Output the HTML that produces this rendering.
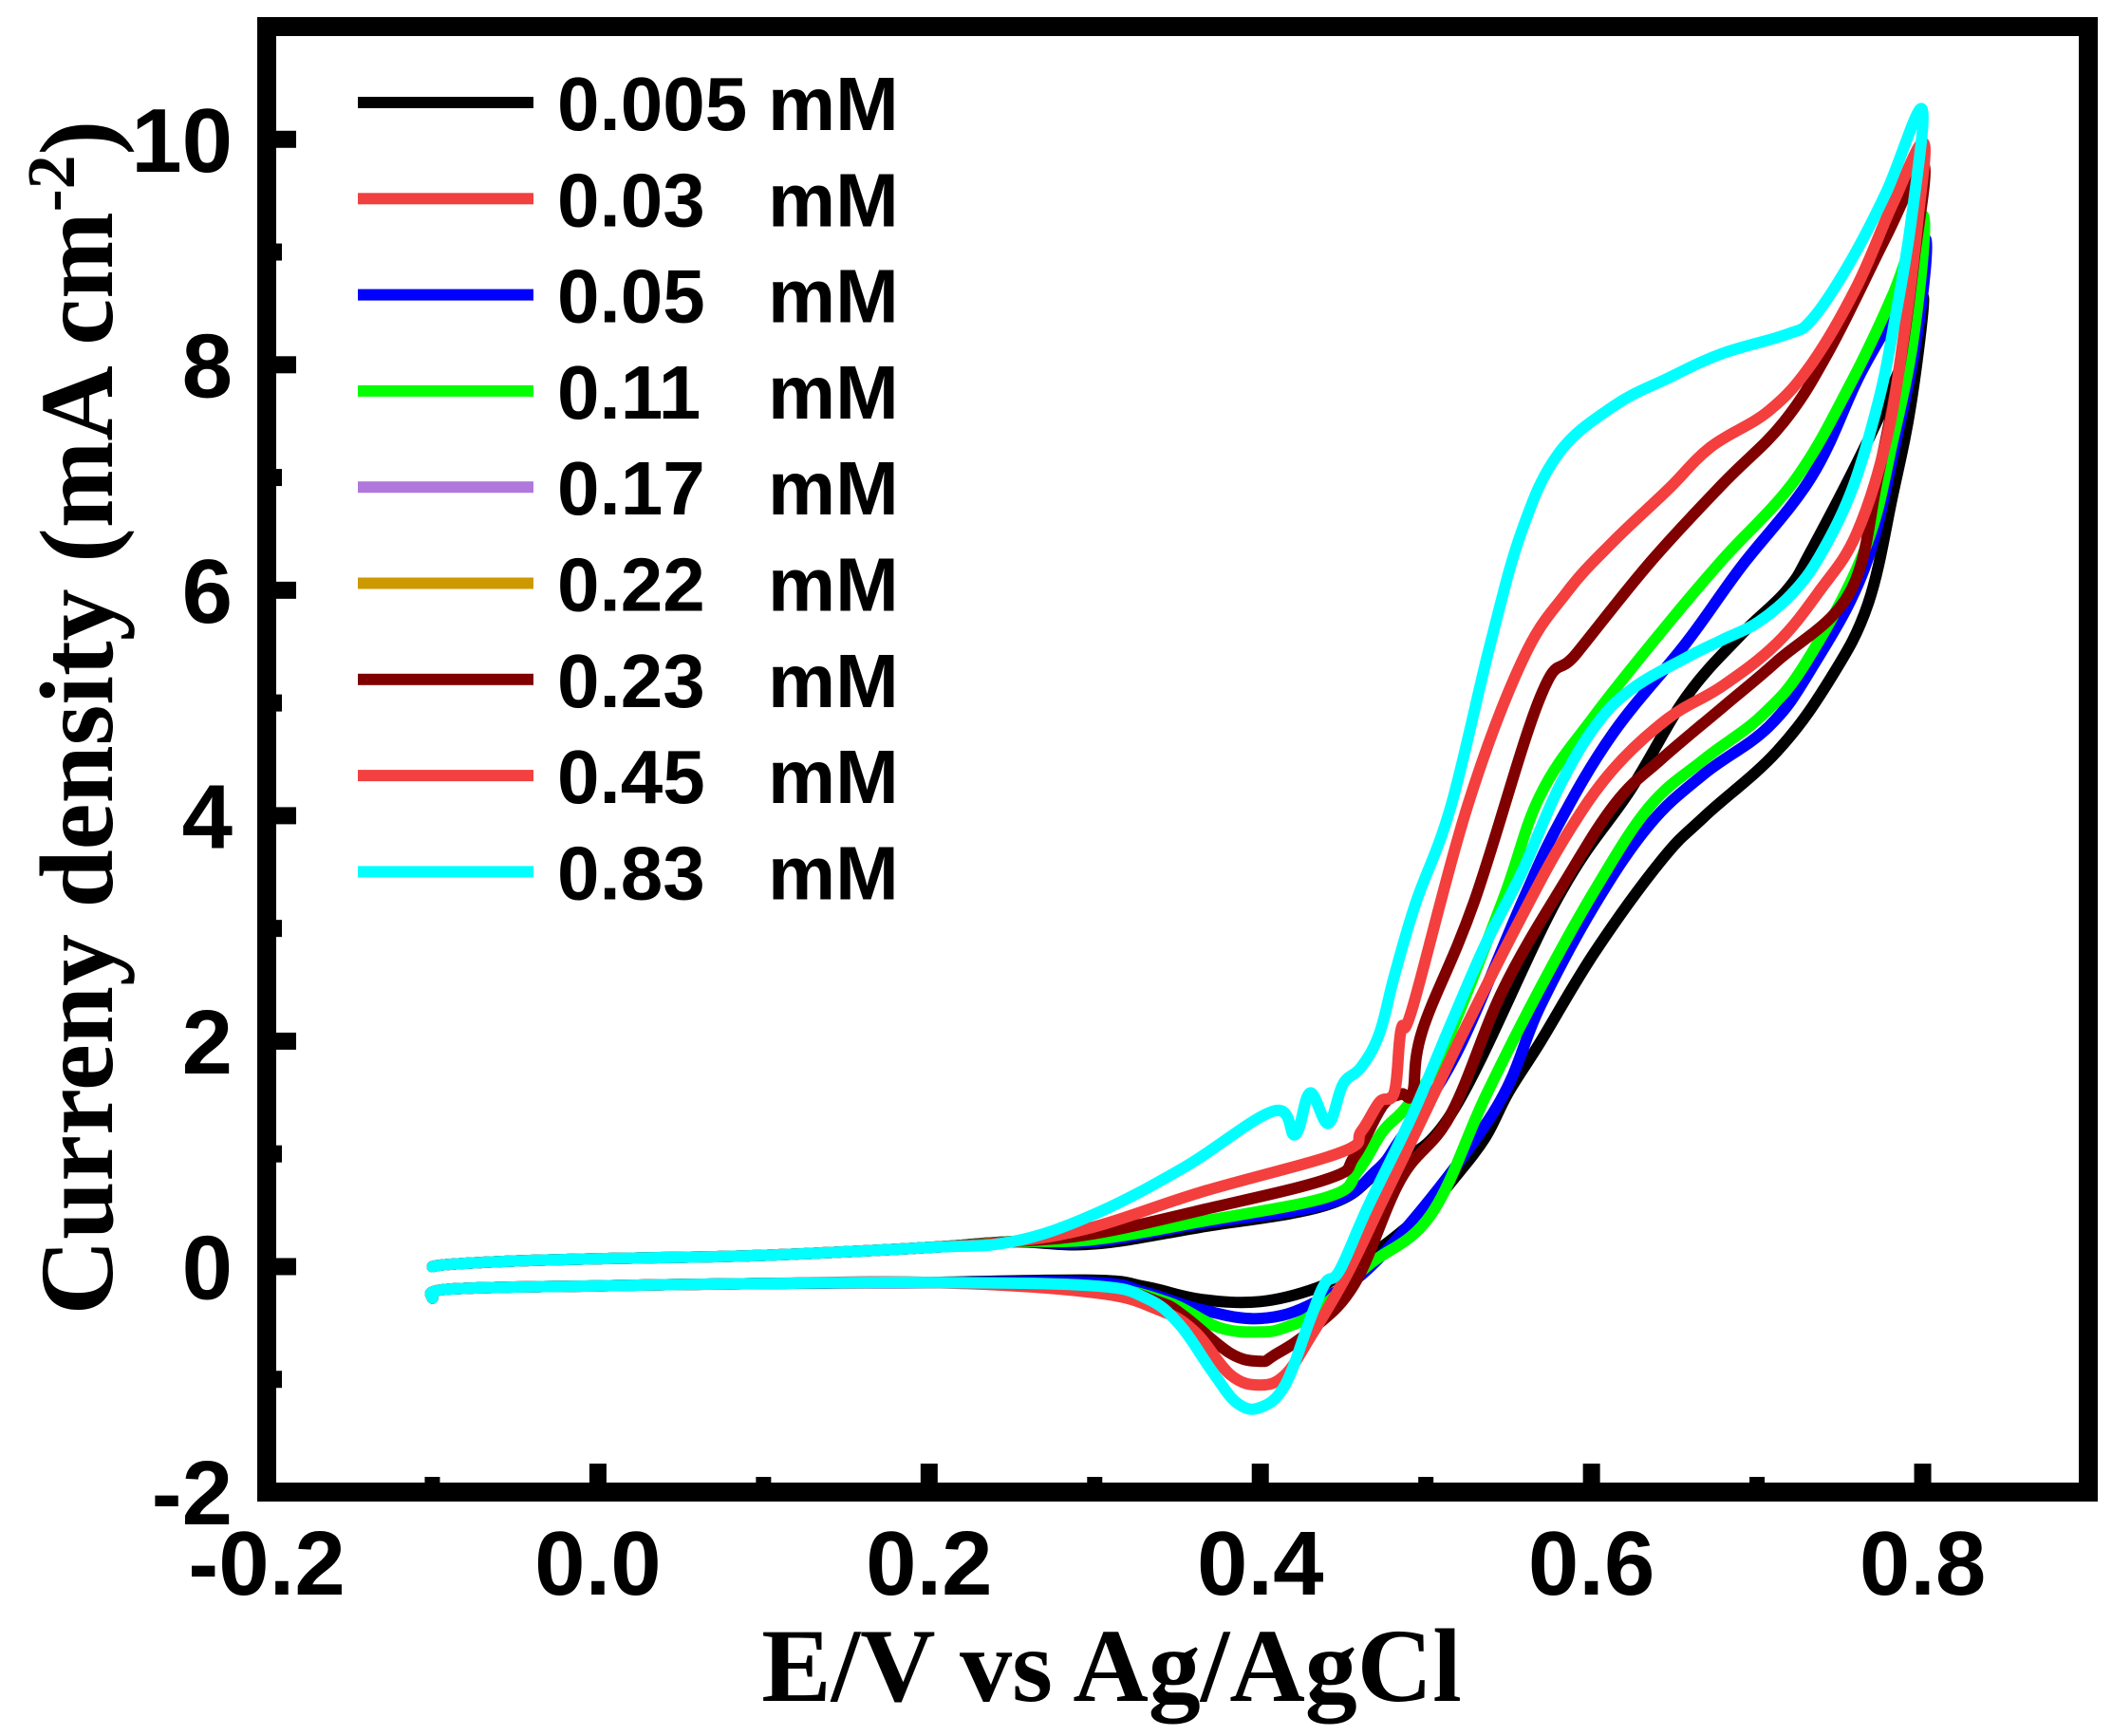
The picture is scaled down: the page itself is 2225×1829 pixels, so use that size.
<!DOCTYPE html>
<html><head><meta charset="utf-8"><style>
html,body{margin:0;padding:0;background:#fff;}
svg{display:block;}
</style></head><body>
<svg id="chart" width="2225" height="1829" viewBox="0 0 2225 1829" xmlns="http://www.w3.org/2000/svg">
<g id="plot"></g>
<g id="axes"></g>
<g id="legend"></g>
<text x="1171" y="1792" text-anchor="middle" font-family="Liberation Serif, serif" font-weight="bold" font-size="110">E/V vs Ag/AgCl</text>
<text transform="translate(118,756) rotate(-90)" text-anchor="middle" font-family="Liberation Serif, serif" font-weight="bold" font-size="110">Curreny density (mA cm<tspan font-size="72" dy="-40">-2</tspan><tspan dy="40">)</tspan></text>
</svg>
<script>
const xTicks = [0.0, 0.2, 0.4, 0.6, 0.8];
const xTickLabels = ["-0.2", "0.0", "0.2", "0.4", "0.6", "0.8"];
const xLabelValues = [-0.2, 0.0, 0.2, 0.4, 0.6, 0.8];
const xMinor = [-0.1, 0.1, 0.3, 0.5, 0.7];
const yTicks = [0, 2, 4, 6, 8, 10];
const yTickLabels = ["-2", "0", "2", "4", "6", "8", "10"];
const yLabelValues = [-2, 0, 2, 4, 6, 8, 10];
const yMinor = [-1, 1, 3, 5, 7, 9];
const legendLabels = ["0.005", "0.03", "0.05", "0.11", "0.17", "0.22", "0.23", "0.45", "0.83"];
const legendColors = ["#000000", "#f04040", "#0000ff", "#00ff00", "#b077dd", "#cc9900", "#800000", "#f44040", "#00ffff"];

const startE = [-0.1, -0.09, -0.05, 0.0, 0.1, 0.2, 0.25];
const startJ = [0.0, 0.02, 0.05, 0.07, 0.1, 0.17, 0.22];
const endE = [0.2, 0.1, 0.0, -0.09, -0.1];
const endJ = [-0.14, -0.15, -0.17, -0.2, -0.28];

const blackE = [0.299, 0.364, 0.441, 0.474, 0.515, 0.58, 0.624, 0.657, 0.69, 0.718, 0.733, 0.767, 0.791, 0.8005, 0.793, 0.782, 0.767, 0.744, 0.712, 0.668, 0.642, 0.602, 0.569, 0.55, 0.536, 0.518, 0.5, 0.474, 0.45, 0.434, 0.4, 0.364, 0.331, 0.299];
const blackJ = [0.2, 0.35, 0.55, 0.88, 1.35, 3.28, 4.24, 5.05, 5.6, 6.0, 6.36, 7.33, 8.14, 8.59, 7.66, 6.85, 5.88, 5.21, 4.57, 3.99, 3.6, 2.79, 1.99, 1.55, 1.15, 0.8, 0.5, 0.18, -0.05, -0.19, -0.31, -0.29, -0.18, -0.12];
const blueE = [0.299, 0.364, 0.441, 0.47, 0.485, 0.518, 0.558, 0.58, 0.613, 0.657, 0.69, 0.733, 0.762, 0.789, 0.802, 0.797, 0.784, 0.765, 0.733, 0.707, 0.668, 0.635, 0.602, 0.569, 0.54, 0.474, 0.434, 0.4, 0.364, 0.331, 0.299];
const blueJ = [0.22, 0.38, 0.56, 0.85, 1.14, 1.88, 3.23, 3.92, 4.73, 5.53, 6.2, 7.01, 7.91, 8.62, 9.11, 8.3, 7.33, 6.2, 5.31, 4.79, 4.37, 3.92, 3.21, 2.31, 1.35, 0.11, -0.31, -0.46, -0.38, -0.23, -0.14];
const greenE = [0.299, 0.364, 0.441, 0.459, 0.474, 0.489, 0.509, 0.546, 0.569, 0.602, 0.646, 0.679, 0.723, 0.756, 0.782, 0.8005, 0.795, 0.782, 0.765, 0.73, 0.703, 0.668, 0.635, 0.602, 0.569, 0.536, 0.503, 0.465, 0.434, 0.415, 0.4, 0.375, 0.343, 0.299];
const greenJ = [0.24, 0.4, 0.62, 0.85, 1.2, 1.43, 1.88, 3.23, 4.18, 4.89, 5.7, 6.27, 6.98, 7.82, 8.62, 9.32, 8.3, 7.33, 6.36, 5.37, 4.89, 4.5, 4.08, 3.34, 2.47, 1.51, 0.46, 0.01, -0.4, -0.54, -0.58, -0.54, -0.31, -0.18];
const darkRedE = [0.299, 0.364, 0.441, 0.457, 0.474, 0.485, 0.492, 0.498, 0.529, 0.569, 0.591, 0.635, 0.679, 0.716, 0.744, 0.778, 0.8005, 0.795, 0.786, 0.773, 0.756, 0.712, 0.679, 0.642, 0.615, 0.585, 0.547, 0.515, 0.485, 0.457, 0.43, 0.408, 0.4, 0.382, 0.354, 0.338, 0.299];
const darkRedJ = [0.29, 0.5, 0.78, 0.98, 1.43, 1.53, 1.54, 2.1, 3.23, 5.05, 5.44, 6.24, 6.94, 7.49, 8.14, 9.14, 9.78, 8.95, 7.98, 7.01, 5.98, 5.37, 4.96, 4.5, 4.12, 3.44, 2.47, 1.35, 0.78, -0.15, -0.57, -0.79, -0.84, -0.77, -0.44, -0.31, -0.17];
const redE = [0.299, 0.364, 0.448, 0.461, 0.472, 0.481, 0.485, 0.492, 0.525, 0.558, 0.585, 0.613, 0.646, 0.672, 0.707, 0.733, 0.76, 0.782, 0.8005, 0.797, 0.789, 0.778, 0.76, 0.738, 0.712, 0.679, 0.646, 0.613, 0.585, 0.558, 0.525, 0.499, 0.474, 0.452, 0.43, 0.415, 0.4, 0.382, 0.36, 0.338, 0.299];
const redJ = [0.35, 0.66, 1.01, 1.2, 1.46, 1.55, 2.1, 2.3, 4.08, 5.37, 5.98, 6.43, 6.89, 7.27, 7.59, 8.01, 8.69, 9.43, 9.97, 9.27, 8.3, 7.33, 6.5, 6.0, 5.53, 5.15, 4.86, 4.41, 3.83, 3.11, 2.15, 1.35, 0.59, -0.08, -0.63, -0.96, -1.05, -0.96, -0.57, -0.38, -0.23];
const cyanE = [0.299, 0.354, 0.408, 0.421, 0.43, 0.441, 0.45, 0.461, 0.472, 0.481, 0.494, 0.515, 0.539, 0.558, 0.58, 0.613, 0.646, 0.679, 0.718, 0.733, 0.755, 0.778, 0.7995, 0.793, 0.782, 0.773, 0.758, 0.74, 0.723, 0.701, 0.679, 0.657, 0.624, 0.602, 0.58, 0.558, 0.536, 0.515, 0.492, 0.465, 0.448, 0.439, 0.43, 0.415, 0.4, 0.386, 0.371, 0.351, 0.331, 0.299];
const cyanJ = [0.46, 0.88, 1.38, 1.17, 1.54, 1.27, 1.62, 1.77, 2.07, 2.58, 3.23, 4.08, 5.53, 6.53, 7.21, 7.63, 7.88, 8.1, 8.27, 8.4, 8.88, 9.53, 10.27, 9.27, 8.3, 7.66, 6.92, 6.36, 6.0, 5.72, 5.56, 5.4, 5.12, 4.79, 4.24, 3.5, 2.86, 2.15, 1.35, 0.53, -0.03, -0.15, -0.47, -1.05, -1.25, -1.21, -0.93, -0.51, -0.28, -0.17];

const series = [
  {name:"black", e:blackE, j:blackJ, c:"#000000"},
  {name:"blue", e:blueE, j:blueJ, c:"#0000ff"},
  {name:"green", e:greenE, j:greenJ, c:"#00ff00"},
  {name:"dark-red", e:darkRedE, j:darkRedJ, c:"#800000"},
  {name:"red", e:redE, j:redJ, c:"#f43f3f"},
  {name:"cyan", e:cyanE, j:cyanJ, c:"#00ffff"}
];

const L=281, R=2200, T=28, B=1572, XMIN=-0.2, XMAX=0.9, YMIN=-2, YMAX=11;
function sx(v){return L+(v-XMIN)/(XMAX-XMIN)*(R-L);}
function sy(v){return B-(v-YMIN)/(YMAX-YMIN)*(B-T);}
const NS="http://www.w3.org/2000/svg";
function mk(tag, attrs, parent){const el=document.createElementNS(NS,tag);for(const k in attrs)el.setAttribute(k,attrs[k]);parent.appendChild(el);return el;}
function smoothPath(P){
  let d="M"+P[0][0].toFixed(1)+" "+P[0][1].toFixed(1);
  const k=0.18;
  for(let i=0;i<P.length-1;i++){
    const p0=P[Math.max(0,i-1)], p1=P[i], p2=P[i+1], p3=P[Math.min(P.length-1,i+2)];
    const c1=[p1[0]+(p2[0]-p0[0])*k, p1[1]+(p2[1]-p0[1])*k];
    const c2=[p2[0]-(p3[0]-p1[0])*k, p2[1]-(p3[1]-p1[1])*k];
    d+="C"+c1[0].toFixed(1)+" "+c1[1].toFixed(1)+" "+c2[0].toFixed(1)+" "+c2[1].toFixed(1)+" "+p2[0].toFixed(1)+" "+p2[1].toFixed(1);
  }
  return d;
}

const plot=document.getElementById('plot');
series.forEach(s=>{
  const E=startE.concat(s.e, endE), J=startJ.concat(s.j, endJ);
  const P=E.map((e,i)=>[sx(e), sy(J[i])]);
  const p=mk('path',{d:smoothPath(P),fill:"none",stroke:s.c,"stroke-width":12,"stroke-linejoin":"round","stroke-linecap":"round"},plot);
  
  
});

const axes=document.getElementById('axes');
const frame=mk('rect',{x:L,y:T,width:R-L,height:B-T,fill:"none",stroke:"#000","stroke-width":20},axes);


xTicks.forEach(v=>{
  const t=mk('rect',{x:sx(v)-9,y:B-30,width:18,height:30,fill:"#000"},axes);
  
  
});
xMinor.forEach(v=>{
  const t=mk('rect',{x:sx(v)-8,y:B-16,width:16,height:16,fill:"#000"},axes);
  
  
});
yTicks.forEach(v=>{
  const t=mk('rect',{x:L,y:sy(v)-9,width:31,height:18,fill:"#000"},axes);
  
  
});
yMinor.forEach(v=>{
  const t=mk('rect',{x:L,y:sy(v)-9,width:16,height:18,fill:"#000"},axes);
  
  
});
xLabelValues.forEach((v,i)=>{
  const t=mk('text',{x:sx(v),y:1680,"text-anchor":"middle","font-family":"Liberation Sans, sans-serif","font-weight":"bold","font-size":96},axes);
  t.textContent=xTickLabels[i];
  
  
});
yLabelValues.forEach((v,i)=>{
  const t=mk('text',{x:245,y:sy(v)+34,"text-anchor":"end","font-family":"Liberation Sans, sans-serif","font-weight":"bold","font-size":96},axes);
  t.textContent=yTickLabels[i];
  
  
});

const legend=document.getElementById('legend');
legendLabels.forEach((lab,i)=>{
  const cy=108+i*101.3;
  const g=mk('g',{},legend);
  
  
  mk('rect',{x:377,y:cy-6,width:185,height:12,fill:legendColors[i]},g);
  const t=mk('text',{x:587,y:cy+29,"font-family":"Liberation Sans, sans-serif","font-weight":"bold","font-size":80},g);
  t.textContent=lab;
  const u=mk('text',{x:809,y:cy+29,"font-family":"Liberation Sans, sans-serif","font-weight":"bold","font-size":80},g);
  u.textContent="mM";
});
</script>
</body></html>
